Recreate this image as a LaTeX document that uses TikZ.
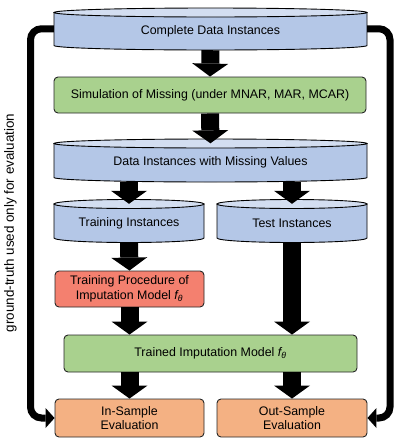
\documentclass[tikz,border=0pt]{standalone}
\usepackage{fontspec}
\setmainfont{Liberation Sans}
\usetikzlibrary{arrows.meta}
\definecolor{cylblue}{HTML}{B4C7E7}
\definecolor{cyltopc}{HTML}{D3DEF1}
\definecolor{boxgreen}{HTML}{A9D18E}
\definecolor{boxred}{HTML}{F4806F}
\definecolor{boxorange}{HTML}{F4B183}
\newcommand\fth{{\itshape f}\textsubscript{\itshape θ}}
\newcommand\mycyl[6]{%
 \pgfmathsetmacro\cylR{(#3-#2)/2}%
 \pgfmathsetmacro\cylW{#3-#2}%
 \pgfmathsetmacro\cylM{(#3+#2)/2}%
 \pgfmathsetmacro\cylH{#5+4.5-#4}%
 \pgfmathsetmacro\cylC{(#5+4.5+#4)/2}%
 \filldraw[cylline,fill=cylblue] (#2,#4) -- (#2,#5) arc[start angle=180,end angle=360,x radius=\cylR pt,y radius=4.5pt] -- (#3,#4) -- cycle;
 \filldraw[cylline,fill=cyltopc] (\cylM,#4) ellipse[x radius=\cylR pt,y radius=4.5pt];
 \node[txt,minimum width=\cylW pt,minimum height=\cylH pt] (#1) at (\cylM,\cylC) {#6};
}
\begin{document}
\begin{tikzpicture}[x=1pt,y=-1pt,
  txt/.style={inner sep=0pt,align=center,font=\fontsize{12.4}{14.5}\selectfont},
  cylline/.style={draw=black,line width=0.9pt},
  box/.style={txt,draw=black!85,line width=0.9pt,rounded corners=4pt},
  blk/.style={line width=18pt,-{Triangle[width=36pt,length=13pt,line width=0pt]}},
  back/.style={line width=7pt,rounded corners=11pt,-{Triangle[width=20pt,length=9pt,line width=0pt]}}]
\useasboundingbox (0,0) rectangle (401,445);

\mycyl{cdi}{54}{367}{12.5}{45.5}{Complete Data Instances}
\node[box,fill=boxgreen,minimum width=312pt,minimum height=36pt] (sim) at (210,95) {Simulation of Missing (under MNAR, MAR, MCAR)};
\mycyl{dim}{54}{367}{143.5}{177.5}{Data Instances with Missing Values}
\mycyl{tr}{54}{204}{204}{238}{Training Instances}
\mycyl{te}{217}{367}{204}{238}{Test Instances}
\node[box,fill=boxred,minimum width=149pt,minimum height=36pt] (tp) at (129.5,289) {Training Procedure of\\Imputation Model \fth};
\node[box,fill=boxgreen,minimum width=293pt,minimum height=37pt] (tim) at (210.5,353.5) {Trained Imputation Model \fth};
\node[box,fill=boxorange,minimum width=149pt,minimum height=38pt] (ise) at (129.5,418) {In-Sample\\Evaluation};
\node[box,fill=boxorange,minimum width=150pt,minimum height=38pt] (ose) at (292,418) {Out-Sample\\Evaluation};

\node[txt,rotate=90,font=\fontsize{13.4}{15}\selectfont] (gt) at (10.5,223) {ground-truth used only for evaluation};

\draw[blk] (cdi.south) -- (sim.north);
\draw[blk] (sim.south) -- (dim.north);
\draw[blk] (dim.south -| tr.north) -- (tr.north);
\draw[blk] (dim.south -| te.north) -- (te.north);
\draw[blk] (tr.south) -- (tp.north);
\draw[blk] (te.south) -- (te.south |- tim.north);
\draw[blk] (tp.south) -- (tp.south |- tim.north);
\draw[blk] (tim.south -| ise.north) -- (ise.north);
\draw[blk] (tim.south -| ose.north) -- (ose.north);

\coordinate (lx) at (30.5,220);
\coordinate (rx) at (390,220);
\draw[back] ([yshift=2.5pt]cdi.west) -| (lx) |- (ise.west);
\draw[back] ([yshift=2.5pt]cdi.east) -| (rx) |- (ose.east);
\end{tikzpicture}
\end{document}
